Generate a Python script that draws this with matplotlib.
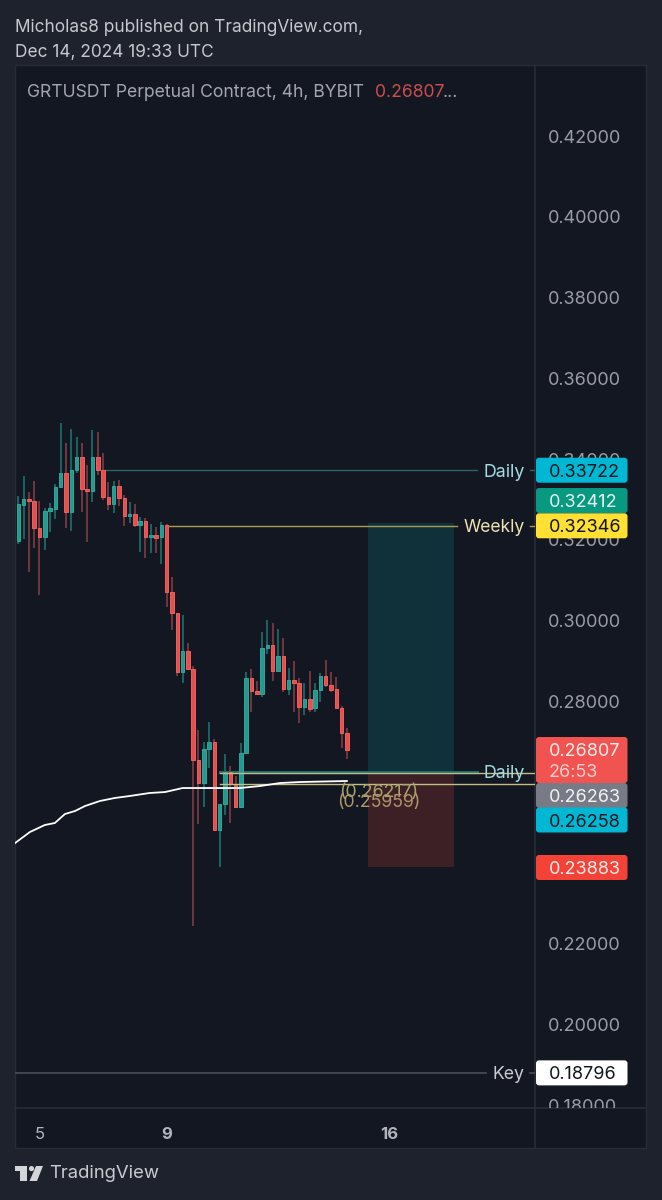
import matplotlib

matplotlib.use("Agg")

import matplotlib.pyplot as plt
from matplotlib.patches import Circle, FancyBboxPatch, Polygon, Rectangle

plt.rcParams["font.family"] = ["Inter", "DejaVu Sans"]

# 4h candles
open_prices = [
    .31969, .32869, .33000, .32960, .32283, .32068, .32704, .32770, .33307, .33662,
    .32696, .33720, .34042, .33266, .33208, .34058, .33720, .33051, .32886, .33323,
    .33043, .32580, .32646, .32374, .32473, .32077, .32126, .32060, .32357, .30706,
    .30194, .28733, .29245, .28799, .26545, .25967, .26826, .26983, .24811, .25447,
    .26256, .25950, .25372, .26727, .28568, .28262, .28188, .29327, .29385, .28749,
    .29121, .28312, .28518, .28460, .27849, .28048, .27825, .28270, .28634, .28394,
    .28295, .27841, .27205,
]
close_prices = [
    .32878, .33000, .32952, .32283, .32068, .32712, .32787, .33315, .33662, .32696,
    .33720, .34042, .33257, .33208, .34058, .33720, .33051, .32886, .33323, .33043,
    .32580, .32646, .32366, .32473, .32077, .32118, .32052, .32357, .30706, .30194,
    .28733, .29245, .28799, .26545, .25967, .26826, .26983, .24811, .25447, .26256,
    .25950, .25372, .26727, .28568, .28262, .28188, .29327, .29385, .28749, .29121,
    .28312, .28518, .28460, .27849, .28048, .27808, .28270, .28634, .28394, .28279,
    .27841, .27205, .26801,
]
high_prices = [
    .33084, .33579, .33191, .33464, .32968, .32778, .32902, .33381, .34900, .34405,
    .34735, .34554, .34388, .33852, .34719, .34661, .34157, .33439, .33464, .33480,
    .33109, .32944, .32878, .32556, .32531, .32382, .32308, .32448, .32382, .31086,
    .30194, .30136, .29451, .28873, .27288, .27000, .27494, .27057, .25447, .26694,
    .26405, .26157, .26974, .28733, .28799, .28502, .29707, .30013, .29930, .29781,
    .29575, .28815, .29005, .28568, .28460, .28758, .28460, .28708, .29022, .28716,
    .28592, .27882, .27329,
]
low_prices = [
    .31887, .32011, .31210, .31788, .30632, .31746, .32200, .32506, .33274, .32283,
    .32225, .33645, .32696, .31936, .32927, .33604, .32985, .32737, .32655, .32836,
    .32341, .32423, .32324, .31689, .31557, .31664, .31680, .31400, .30343, .29765,
    .28626, .28444, .28774, .22433, .24960, .25372, .26339, .24795, .23887, .25183,
    .24993, .25372, .25372, .26727, .27742, .28172, .28097, .29170, .28502, .28733,
    .28229, .28155, .27742, .27470, .27660, .27726, .27742, .27990, .28345, .28237,
    .27825, .26850, .26578,
]

# moving average, x is the bar number
ma_x = [-0.6, 2.2, 5, 6.9, 8.8, 10.7, 12.6, 15.4, 18.2, 21, 24.8, 27.7, 31, 41.8, 45.6, 49.4, 53.2, 62]
ma_y = [.24489, .24762, .24935, .24985, .25207, .25282, .25406, .25530, .25604, .25653,
        .25728, .25752, .25851, .25851, .25901, .25975, .26000, .26025]

# 0.24 and 0.26 sit fully behind the price tags
price_ticks = [.18, .20, .22, .28, .30, .32, .34, .36, .38, .40, .42]
day_ticks = [4, 28, 70]
day_labels = ["5", "9", "16"]

BG_OUTER = "#1e222d"
BG_PANEL = "#131722"
BORDER = "#282c37"
UP = "#26988d"
UP_EDGE = "#2aa89c"
UP_WICK = "#1d6a68"
DOWN = "#e5504f"
DOWN_EDGE = "#ee6060"
DOWN_WICK = "#77393f"

W, H = 662, 1200
PX_PER_PRICE = 4037.5

fig = plt.figure(figsize=(W / 100, H / 100), dpi=100, facecolor=BG_OUTER)


def px_axes(x0, y0, x1, y1):
    return fig.add_axes([x0 / W, 1 - y1 / H, (x1 - x0) / W, (y1 - y0) / H])


# whole-figure layer for the header and footer
page = px_axes(0, 0, W, H)
page.set_xlim(0, W)
page.set_ylim(H, 0)
page.axis("off")
page.add_patch(Rectangle((15, 65), 631, 1083, fc=BG_PANEL, ec=BORDER, lw=1))
page.plot([15, 646], [1108, 1108], color=BORDER, lw=1.2)
page.plot([535, 535], [65, 1148], color=BORDER, lw=1.2)

page.text(15, 28, "Micholas8 published on TradingView.com,", color="#c6c8cd", fontsize=12.45, va="center")
page.text(15, 52.5, "Dec 14, 2024 19:33 UTC", color="#c6c8cd", fontsize=12.45, va="center")
page.text(27, 92.5, "GRTUSDT Perpetual Contract, 4h, BYBIT", color="#a3a6ad", fontsize=12.65, va="center")
page.text(375, 92.5, "0.26807", color="#c94f4f", fontsize=12.65, va="center")
page.text(443, 92.5, "...", color="#a3a6ad", fontsize=12.65, va="center")

# TradingView logo
page.add_patch(Polygon([(15, 1166), (27, 1166), (27, 1181), (20, 1181), (20, 1171), (15, 1171)], fc="#d4d5d8"))
page.add_patch(Circle((31.5, 1168.6), 2.6, fc="#d4d5d8"))
page.add_patch(Polygon([(36, 1166), (43, 1166), (37, 1181), (29.5, 1181)], fc="#d4d5d8"))
page.text(49, 1173.5, "TradingView", color="#c9cbd0", fontsize=13.3, va="center")

# price chart
ax = px_axes(15, 65, 535, 1108)
ax.patch.set_alpha(0)
ax.set_xlim(-0.62, 97.5)
ax.set_ylim(0.17926, 0.43759)
for side in ax.spines.values():
    side.set_visible(False)
ax.set_yticks([])
ax.set_xticks(day_ticks)
ax.set_xticklabels(day_labels, color="#b2b5bc", fontsize=12)
ax.tick_params(axis="x", length=0, pad=14)
for label in ax.get_xticklabels()[1:]:
    label.set_fontweight("bold")

# risk/reward box
ax.add_patch(Rectangle((66, 0.26263), 16.2, 0.32412 - 0.26263, fc="#10303a", ec="none", zorder=1))
ax.add_patch(Rectangle((66, 0.23883), 16.2, 0.26263 - 0.23883, fc="#3d2026", ec="none", zorder=1))

# levels
ax.plot([16, 86.5], [0.33722, 0.33722], color="#2c6469", lw=1, zorder=1.5)
ax.plot([96.5, 97.5], [0.33722, 0.33722], color="#2c6469", lw=1, zorder=1.5)
ax.plot([28, 82.7], [0.32346, 0.32346], color="#a89c55", lw=1, zorder=1.5)
ax.plot([96.5, 97.5], [0.32346, 0.32346], color="#a89c55", lw=1, zorder=1.5)
ax.plot([38, 86.5], [0.26258, 0.26258], color="#1c6f70", lw=2.2, zorder=1.5)
ax.plot([-0.62, 88.2], [0.18796, 0.18796], color="#4a4e58", lw=1.2, zorder=1.5)
ax.plot([96.5, 97.5], [0.18796, 0.18796], color="#4a4e58", lw=1.2, zorder=1.5)

for i in range(len(open_prices)):
    is_up = close_prices[i] >= open_prices[i]
    ax.vlines(i, low_prices[i], high_prices[i], color=UP_WICK if is_up else DOWN_WICK, lw=1.3, zorder=2)
    bottom = min(open_prices[i], close_prices[i])
    ax.bar(i, abs(close_prices[i] - open_prices[i]), width=0.66, bottom=bottom,
           color=UP if is_up else DOWN, edgecolor=UP_EDGE if is_up else DOWN_EDGE, lw=0.7, zorder=3)

ax.plot([38, 97.5], [0.26217, 0.26217], color="#c4bd82", lw=1, zorder=4)
ax.plot([38, 97.5], [0.25959, 0.25959], color="#c4bd82", lw=1, zorder=4)
ax.plot(ma_x, ma_y, color="#ffffff", lw=1.3, zorder=5)

ax.annotate("(0.26217)", (68, 0.26217), xytext=(0, -13.8), textcoords="offset points",
            color="#a8a56e", fontsize=12.8, ha="center", va="center", zorder=6)
ax.annotate("(0.25959)", (68, 0.25959), xytext=(0, -13.2), textcoords="offset points",
            color="#b0946a", fontsize=12.8, ha="center", va="center", zorder=6)

ax.text(95.5, 0.33722, "Daily", color="#a6dbe3", fontsize=12.8, ha="right", va="center_baseline", zorder=6)
ax.text(95.5, 0.32346, "Weekly", color="#ece3b4", fontsize=12.6, ha="right", va="center_baseline", zorder=6)
ax.text(95.5, 0.26258, "Daily", color="#a6dbe3", fontsize=12.8, ha="right", va="center_baseline", zorder=6)
ax.text(95.5, 0.18796, "Key", color="#c9cbd0", fontsize=12.8, ha="right", va="center_baseline", zorder=6)

# price scale
scale = px_axes(535, 65, 646, 1108)
scale.patch.set_alpha(0)
scale.set_xlim(535, 646)
scale.set_ylim(ax.get_ylim())
for side in scale.spines.values():
    side.set_visible(False)
scale.set_xticks([])
scale.yaxis.tick_left()
scale.set_yticks(price_ticks)
scale.set_yticklabels([f"{p:.5f}" for p in price_ticks], color="#9a9da5", fontsize=13, ha="left")
scale.tick_params(axis="y", length=0, direction="in", pad=-9)
for label in scale.get_yticklabels():
    label.set_clip_box(scale.bbox)
    label.set_clip_on(True)


def price_tag(center, text, face, text_color, height_px=25):
    height = height_px / PX_PER_PRICE
    scale.add_patch(FancyBboxPatch((536, center - height / 2), 91.5, height,
                                   boxstyle="round,pad=0,rounding_size=3",
                                   mutation_aspect=1 / PX_PER_PRICE,
                                   fc=face, ec="none", zorder=5))
    scale.text(548.5, center, text, color=text_color, fontsize=13, va="center_baseline", zorder=6)


price_tag(0.33722, "0.33722", "#00b8d4", "#10141c")
price_tag(0.32972, "0.32412", "#089981", "#e6f4f1")
price_tag(0.32346, "0.32346", "#ffe033", "#10141c")
price_tag(0.25666, "0.26263", "#787b86", "#f2f2f4")
price_tag(0.25059, "0.26258", "#00b8d4", "#10141c")
price_tag(0.23883, "0.23883", "#f44336", "#fdeeee")
price_tag(0.18796, "0.18796", "#ffffff", "#10141c")

# last price tag carries the bar countdown
price_tag(0.26545, "", "#f05350", "#ffffff", height_px=46)
scale.text(548.5, 0.26807, "0.26807", color="#fdeeee", fontsize=13, va="center_baseline", zorder=6)
scale.text(548.5, 0.26287, "26:53", color="#f9cfcd", fontsize=13, va="center_baseline", zorder=6)

fig.savefig("out.png", dpi=100, facecolor=fig.get_facecolor())
